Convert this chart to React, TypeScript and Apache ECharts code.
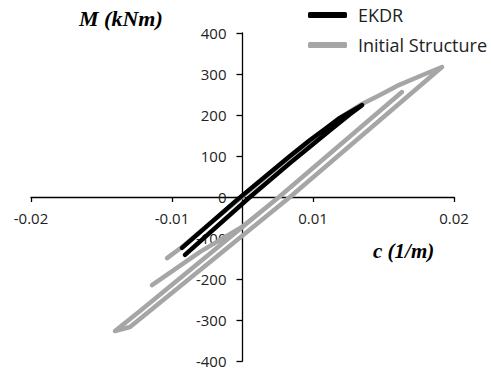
import React, { useEffect, useRef } from "react";
import * as echarts from "echarts";

// curvature c (1/m), moment M (kNm)
const ekdrC = [-0.00429, -0.00039, 0.00337, 0.00479, 0.00585, 0.00691, 0.00777, 0.00848, 0.00762, 0.00621, 0.00337, 0.00053, -0.00408];
const ekdrM = [-124, -7, 100, 139, 166, 193, 210, 224, 202, 163, 83, 0, -141];

const initC = [-0.00535, -0.00429, -0.00039, 0.00337, 0.00479, 0.00585, 0.00691, 0.00777, 0.00848, 0.00975, 0.01096, 0.01294, 0.01415, 0.00337, -0.00798, -0.00904, -0.00727, 0.00259, 0.01131, 0.00259, -0.00004, -0.00301, -0.00642];
const initM = [-149, -122, -10, 98, 137, 164, 193, 212, 227, 249, 271, 300, 317, 0, -317, -327, -278, 0, 256, 0, -73, -134, -215];

const xTickValues = [-0.015, -0.005, 0.005, 0.015];
const xTickLabels = ["-0.02", "-0.01", "0.01", "0.02"];
const xMin = -0.015;
const xMax = 0.015;
const yMin = -400;
const yMax = 400;
const yStep = 100;

const labelFont = "'Open Sans', sans-serif";
const titleFont = "'Liberation Serif', 'Times New Roman', serif";

const W = 491;
const H = 371;
const gridL = 31;
const gridR = 37;
const gridT = 33;
const gridB = 10;

export default function App() {
  const ref = useRef<HTMLDivElement>(null);
  useEffect(() => {
    if (!ref.current) return;
    const chart = echarts.init(ref.current, null, { renderer: "svg" });
    const pair = (xs: number[], ys: number[]) => xs.map((x, i) => [x, ys[i]]);
    const plotW = W - gridL - gridR;
    const plotH = H - gridT - gridB;
    // axes cross at the origin: shift the bottom/left axes inward
    const xAxisOffset = -plotH * (0 - yMin) / (yMax - yMin);
    const yAxisOffset = -plotW * (0 - xMin) / (xMax - xMin);
    chart.setOption({
      animation: false,
      backgroundColor: "#fff",
      grid: { left: gridL, right: gridR, top: gridT, bottom: gridB, containLabel: false, outerBoundsMode: "none" },
      legend: {
        data: ["EKDR", "Initial Structure"],
        orient: "vertical",
        left: 303,
        top: 0,
        itemGap: 10,
        itemWidth: 39,
        itemHeight: 6,
        icon: "roundRect",
        textStyle: { fontFamily: labelFont, fontSize: 18, color: "#222", lineHeight: 20, padding: [0, 0, 0, 6] },
      },
      xAxis: {
        type: "value",
        position: "bottom",
        offset: xAxisOffset,
        min: xMin,
        max: xMax,
        splitLine: { show: false },
        axisLine: { onZero: false, lineStyle: { color: "#000", width: 1.3 } },
        axisTick: { show: true, inside: false, length: 5, customValues: xTickValues, lineStyle: { color: "#000", width: 1.3 } },
        axisLabel: {
          customValues: xTickValues,
          margin: 13,
          fontFamily: labelFont,
          fontSize: 15,
          color: "#222",
          formatter: (v: number) => {
            let best = 0;
            xTickValues.forEach((t, i) => {
              if (Math.abs(t - v) < Math.abs(xTickValues[best] - v)) best = i;
            });
            return xTickLabels[best];
          },
        },
      },
      yAxis: {
        type: "value",
        position: "left",
        offset: yAxisOffset,
        min: yMin,
        max: yMax,
        interval: yStep,
        splitLine: { show: false },
        axisLine: { onZero: false, lineStyle: { color: "#000", width: 1.3 } },
        axisTick: { show: true, inside: false, length: 6, lineStyle: { color: "#000", width: 1.3 } },
        axisLabel: { margin: 16, fontFamily: labelFont, fontSize: 15, color: "#222" },
      },
      graphic: [
        {
          type: "text",
          left: 79,
          top: 7,
          style: { text: "M (kNm)", font: `italic bold 22px ${titleFont}`, fill: "#000" },
        },
        {
          type: "text",
          left: 373,
          top: 240,
          style: { text: "c (1/m)", font: `italic bold 21px ${titleFont}`, fill: "#000" },
        },
      ],
      series: [
        {
          name: "Initial Structure",
          type: "line",
          data: pair(initC, initM),
          symbol: "none",
          color: "#A6A6A6",
          lineStyle: { width: 4.5, color: "#A6A6A6", cap: "round", join: "round" },
          z: 2,
        },
        {
          name: "EKDR",
          type: "line",
          data: pair(ekdrC, ekdrM),
          symbol: "none",
          color: "#000",
          lineStyle: { width: 4.5, color: "#000", cap: "round", join: "round" },
          z: 3,
        },
      ],
    });
    return () => chart.dispose();
  }, []);
  return <div ref={ref} style={{ position: "fixed", left: 0, top: 0, width: W, height: H }} />;
}
